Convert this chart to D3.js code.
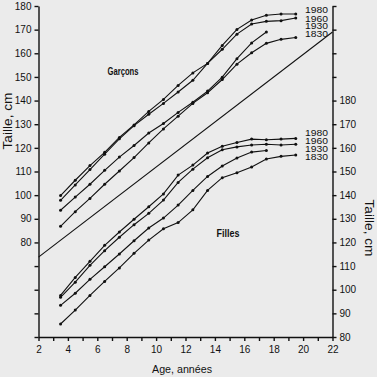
<!DOCTYPE html>
<html><head><meta charset="utf-8">
<script src="https://cdn.jsdelivr.net/npm/d3@7"></script>
<style>
html,body{margin:0;padding:0;background:#ebebeb;}
svg{display:block;font-family:"Liberation Sans",Arial,sans-serif;}
</style></head>
<body><svg id="c" width="377" height="377"></svg>
<script>
// ---- data ----
const ages = [3.5,4.5,5.5,6.5,7.5,8.5,9.5,10.5,11.5,12.5,13.5,14.5,15.5,16.5,17.5,18.5,19.5];
const cohorts = ["1980","1960","1930","1830"];
const boys1980 = [99.8,106.3,112.5,118.1,124.4,129.7,135.4,140.5,146.4,151.7,155.7,163.3,170.1,174.1,176.1,176.6,176.6];
const boys1960 = [97.8,104.3,110.8,117.3,123.8,129.4,134.2,138.8,143.6,148.6,155.7,161.7,168.1,172.4,173.5,173.8,174.9];
const boys1930 = [93.6,99.2,104.6,110.5,116.1,121.0,126.3,130.3,135.0,139.3,144.0,149.9,157.7,164.4,169.0];
const boys1830 = [86.8,93.0,98.6,104.6,110.2,115.9,122.1,128.0,133.4,138.8,143.3,148.9,155.4,160.2,164.2,165.9,166.7];
const girls1980 = [97.6,105.2,112.0,118.8,124.4,129.8,135.1,140.5,148.5,152.7,157.8,160.7,162.3,163.7,163.4,163.7,164.0];
const girls1960 = [96.8,103.2,110.3,116.5,122.2,127.5,132.3,137.9,145.4,151.0,155.8,159.2,160.4,161.2,161.5,161.2,161.5];
const girls1930 = [93.4,98.5,104.4,109.7,115.1,120.7,126.1,130.3,135.8,142.0,147.9,152.3,155.7,158.2,158.9];
const girls1830 = [85.5,91.4,97.6,103.5,109.2,115.4,121.0,125.8,128.4,133.8,142.0,147.4,149.5,151.9,155.3,156.4,157.0];
const diagonalAges = [2,22];
const diagonalValues = [73.8,169];
const xTicks = d3.range(2,23,1);
const xTickLabels = [2,4,6,8,10,12,14,16,18,20,22];
const leftTicks = d3.range(40,181,10);
const leftTickLabels = [80,90,100,110,120,130,140,150,160,170,180];
const rightTicks = d3.range(80,221,10);
const rightTickLabels = [80,90,100,110,120,130,140,150,160,170,180];

// ---- layout ----
const svg = d3.select("#c");
const X0=38.5, X1=332.5, Y0=337, Y1=6;
const x = d3.scaleLinear().domain([2,22]).range([X0,X1]);
const yL = d3.scaleLinear().domain([40,180]).range([Y0,Y1]);
const yR = d3.scaleLinear().domain([80,220]).range([Y0,Y1]);
const ink="#111";

svg.append("rect").attr("width",377).attr("height",377).attr("fill","#ebebeb");

// axes
const gx = svg.append("g").attr("transform",`translate(0,${Y0})`)
  .call(d3.axisBottom(x).tickValues(xTicks).tickSize(4).tickSizeOuter(0)
     .tickFormat(d=>xTickLabels.includes(d)?d:""));
const gl = svg.append("g").attr("transform",`translate(${X0},0)`)
  .call(d3.axisLeft(yL).tickValues(leftTicks).tickSize(4).tickSizeOuter(0)
     .tickFormat(d=>leftTickLabels.includes(d)?d:""));
const gr = svg.append("g").attr("transform",`translate(${X1},0)`)
  .call(d3.axisRight(yR).tickValues(rightTicks).tickSize(4).tickSizeOuter(0)
     .tickFormat(d=>rightTickLabels.includes(d)?d:""));
[gx,gl,gr].forEach(g=>{
  g.selectAll("path,line").attr("stroke",ink).attr("stroke-width",1.4);
  g.selectAll("text").attr("fill",ink).attr("font-size",10).attr("font-family","Liberation Sans, Arial, sans-serif");
});
gx.selectAll("text").attr("dy","0.9em");
gl.selectAll("text").attr("x",-7);
gr.selectAll("text").attr("x",7);

// diagonal reference line
svg.append("path")
  .datum(diagonalAges.map((a,i)=>[a,diagonalValues[i]]))
  .attr("d",d3.line().x(d=>x(d[0])).y(d=>yL(d[1])))
  .attr("fill","none").attr("stroke",ink).attr("stroke-width",1.1);

function drawSeries(vals, yScale){
  const pts = vals.map((v,i)=>[ages[i],v]);
  svg.append("path").datum(pts)
    .attr("d",d3.line().x(d=>x(d[0])).y(d=>yScale(d[1])))
    .attr("fill","none").attr("stroke",ink).attr("stroke-width",1.1);
  svg.append("g").selectAll("circle").data(pts).join("circle")
    .attr("cx",d=>x(d[0])).attr("cy",d=>yScale(d[1])).attr("r",1.5).attr("fill",ink);
}
[boys1980,boys1960,boys1930,boys1830].forEach(s=>drawSeries(s,yL));
[girls1980,girls1960,girls1930,girls1830].forEach(s=>drawSeries(s,yR));

// cohort labels
const boyLabelY=[10,18.3,26,33.8];
const girlLabelY=[133,141,149,157];
cohorts.forEach((c,i)=>{
  [boyLabelY[i],girlLabelY[i]].forEach(yy=>{
    svg.append("text").text(c).attr("x",305).attr("y",yy).attr("dy","0.36em")
      .attr("font-size",9.5).attr("fill",ink).attr("textLength",23).attr("lengthAdjust","spacingAndGlyphs");
  });
});

// group labels
svg.append("text").text("Garçons").attr("x",123).attr("y",71).attr("dy","0.35em")
  .attr("text-anchor","middle").attr("font-weight","bold").attr("font-size",10.5)
  .attr("textLength",31).attr("lengthAdjust","spacingAndGlyphs").attr("fill",ink);
svg.append("text").text("Filles").attr("x",228).attr("y",233).attr("dy","0.35em")
  .attr("text-anchor","middle").attr("font-weight","bold").attr("font-size",10.5)
  .attr("textLength",23).attr("lengthAdjust","spacingAndGlyphs").attr("fill",ink);

// axis titles
svg.append("text").text("Taille, cm").attr("transform","translate(7.5,121) rotate(-90)")
  .attr("text-anchor","middle").attr("dy","0.35em").attr("font-size",12)
  .attr("textLength",57).attr("lengthAdjust","spacingAndGlyphs").attr("fill",ink);
svg.append("text").text("Taille, cm").attr("transform","translate(369,228) rotate(90)")
  .attr("text-anchor","middle").attr("dy","0.35em").attr("font-size",12)
  .attr("textLength",57).attr("lengthAdjust","spacingAndGlyphs").attr("fill",ink);
svg.append("text").text("Age, années").attr("x",182).attr("y",369).attr("dy","0.35em")
  .attr("text-anchor","middle").attr("font-size",11)
  .attr("textLength",60).attr("lengthAdjust","spacingAndGlyphs").attr("fill",ink);
</script></body></html>
